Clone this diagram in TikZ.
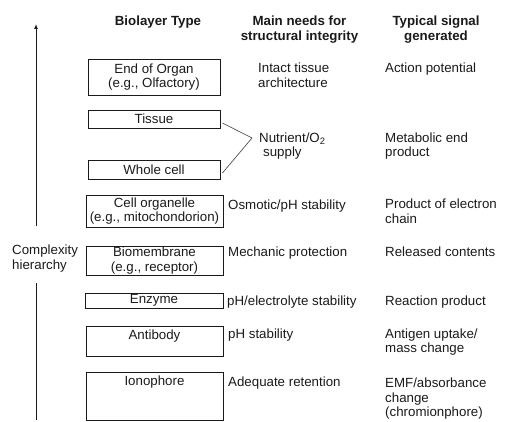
\documentclass[tikz,border=0pt]{standalone}
\usepackage{fontspec}
\setmainfont{Liberation Sans}
\usetikzlibrary{arrows.meta}
\definecolor{HierInk}{HTML}{1A1A1A}
\definecolor{HierLine}{HTML}{505050}
\tikzset{
  every node/.style={font=\fontsize{13.3}{14.6}\selectfont, text=HierInk, inner sep=0pt},
  heading/.style={font=\fontsize{13.3}{15}\selectfont\bfseries, align=center, anchor=base},
  layerbox/.style={draw=HierInk, line width=0.9pt, align=center},
  toptext/.style={anchor=north, yshift=-4pt},
  cell/.style={anchor=base west, align=left},
  forkline/.style={draw=HierLine, line width=0.7pt},
  hierline/.style={draw=HierInk, line width=1pt},
}
\begin{document}
\begin{tikzpicture}[x=1pt,y=-1pt]
  \useasboundingbox (0,0) rectangle (511,422);
  % Column headings (multi-line nodes sit on their last baseline)
  \node[heading] (headtype) at (158,26) {Biolayer Type};
  \node[heading] (headneed) at (299.5,41) {Main needs for\\structural integrity};
  \node[heading] (headsignal) at (436,41) {Typical signal\\generated};
  % Complexity axis, broken by its label
  \node[cell] (hier) at (12,269) {Complexity\\hierarchy};
  \coordinate (axisbot) at (36,420);
  \coordinate (gapbot) at (36,283);
  \coordinate (gaptop) at (36,226);
  \coordinate (axistop) at (36,24);
  \draw[hierline] (axisbot) -- (gapbot);
  \draw[hierline, -{Latex[length=5pt,width=4pt]}] (gaptop) -- (axistop);
  % Biolayer boxes
  \node[layerbox, minimum width=132pt, minimum height=36pt] (organ) at (154,77) {End of Organ\\(e.g., Olfactory)};
  \node[layerbox, minimum width=132pt, minimum height=18pt] (tissue) at (154,119) {Tissue};
  \node[layerbox, minimum width=132pt, minimum height=19pt] (whole) at (154,169.5) {Whole cell};
  \node[layerbox, minimum width=137pt, minimum height=32pt] (organelle) at (154.5,211) {Cell organelle\\(e.g., mitochondorion)};
  \node[layerbox, minimum width=137pt, minimum height=29pt] (membrane) at (154.5,260.5) {Biomembrane\\(e.g., receptor)};
  \node[layerbox, minimum width=138pt, minimum height=15pt] (enzyme) at (154,300.5) {Enzyme};
  \node[layerbox, minimum width=137pt, minimum height=30pt, label={[toptext]north:Antibody}] (antibody) at (154.5,341) {};
  \node[layerbox, minimum width=137pt, minimum height=48pt, label={[toptext]north:Ionophore}] (ionophore) at (154.5,396) {};
  % Tissue and whole cell share one need
  \coordinate (fork) at (252,138);
  \draw[forkline] ([xshift=2pt,yshift=-4pt]tissue.east) -- (fork);
  \draw[forkline] ([xshift=2pt,yshift=-3.5pt]whole.east) -- (fork);
  % Needs for structural integrity
  \foreach \x/\y/\txt [count=\i] in {258/87.3/{Intact tissue\\architecture},
      259/156.7/{Nutrient/O\textsubscript{2}\\\hspace*{4pt}supply},
      228/209.3/{Osmotic/pH stability}, 228/256.7/{Mechanic protection},
      227/305/{pH/electrolyte stability}, 228/338.3/{pH stability},
      228/386/{Adequate retention}}
    \node[cell] (need\i) at (\x,\y) {\txt};
  % Signals generated
  \foreach \y/\txt [count=\i] in {72.3/{Action potential}, 156.7/{Metabolic end\\product},
      223.3/{Product of electron\\chain}, 256.7/{Released contents},
      305/{Reaction product}, 352.7/{Antigen uptake/\\mass change},
      416.7/{EMF/absorbance\\change\\(chromionphore)}}
    \node[cell] (signal\i) at (385,\y) {\txt};
\end{tikzpicture}
\end{document}
